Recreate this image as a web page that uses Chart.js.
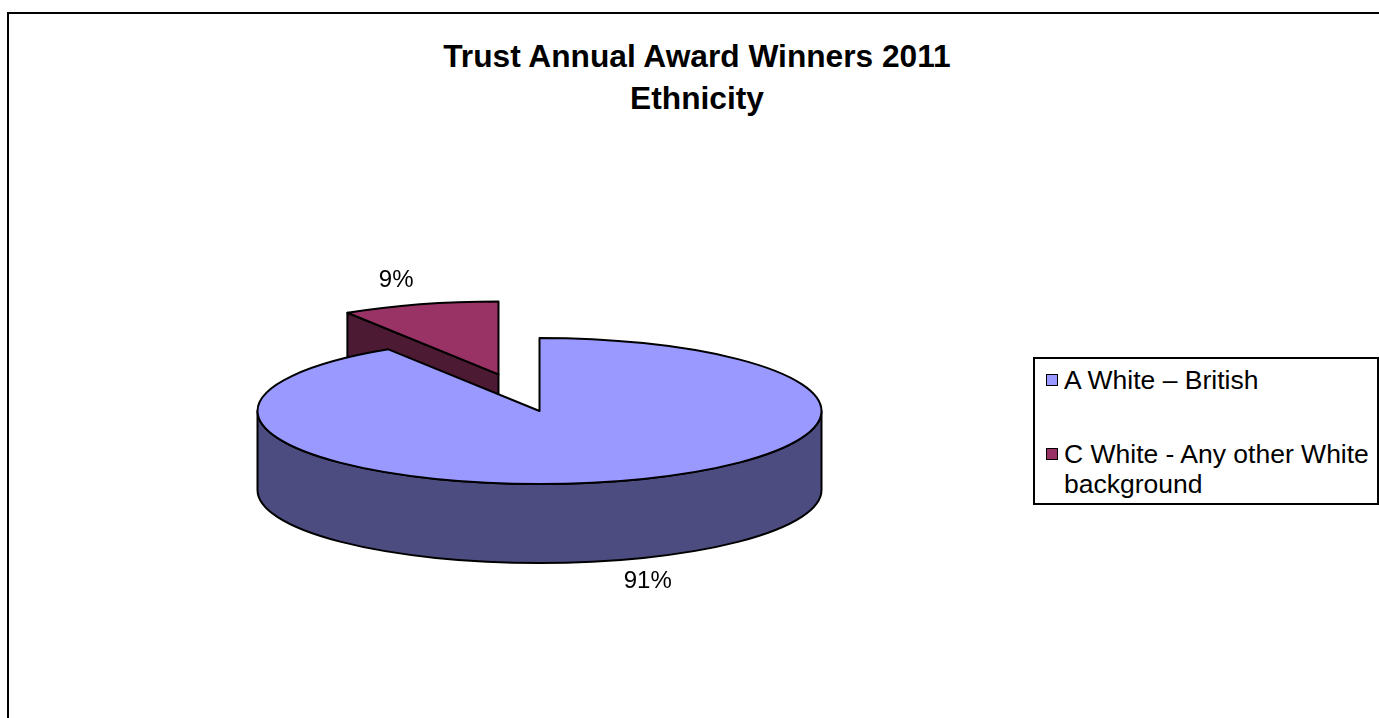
<!DOCTYPE html>
<html>
<head>
<meta charset="utf-8">
<title>Trust Annual Award Winners 2011 - Ethnicity</title>
<script src="https://cdn.jsdelivr.net/npm/chart.js@4"></script>
<style>
  html, body { margin: 0; padding: 0; background: #fff; overflow: hidden; }
  body { width: 1379px; height: 718px; position: relative; font-family: "Liberation Sans", Arial, sans-serif; }
  #frame { position: absolute; left: 7px; top: 12px; width: 1500px; height: 800px; border: 2px solid #000; }
  #chart { position: absolute; left: 0; top: 0; }
  #title {
    position: absolute; left: 0; width: 1394px; top: 35px;
    text-align: center; font-weight: bold; font-size: 31.7px; line-height: 42px; color: #000;
  }
  #legend {
    position: absolute; left: 1033px; top: 357px; width: 346px; box-sizing: border-box;
    border: 2px solid #000; background: #fff; padding: 6px 0 4px 0;
  }
  .item { position: relative; padding-left: 29px; font-size: 26.5px; line-height: 30px; width: 314px; }
  .item + .item { margin-top: 44px; }
  .swatch { position: absolute; left: 11px; top: 9px; width: 10px; height: 10px; border: 1px solid #000; }
</style>
</head>
<body>
<div id="frame"></div>
<div id="title"></div>
<canvas id="chart" width="1379" height="718"></canvas>
<div id="legend"></div>

<script>
// chart data
const titleLines = ['Trust Annual Award Winners 2011', 'Ethnicity'];
const labels = ['A White – British', 'C White - Any other White background'];
const values = [91, 9];

// look of the 3d pie
const topColors = ['#9999FF', '#993366'];
const sideColors = ['#4C4C80', '#4D1A33'];
const explode = [0, 147];   // how far each slice is pulled out (unscaled px)
const TILT = 0.259;         // vertical squash of the pie
const DEPTH = 79;           // thickness of the pie
const FONT = '"Liberation Sans", Arial, sans-serif';

document.getElementById('title').innerHTML = titleLines.join('<br>');

const legend = document.getElementById('legend');
labels.forEach((label, i) => {
  const item = document.createElement('div');
  item.className = 'item';
  const sw = document.createElement('span');
  sw.className = 'swatch';
  sw.style.background = topColors[i];
  item.appendChild(sw);
  item.appendChild(document.createTextNode(label));
  legend.appendChild(item);
});

const pie3d = {
  id: 'pie3d',
  beforeDatasetsDraw(chart) {
    const ctx = chart.ctx;
    const meta = chart.getDatasetMeta(0);
    const total = values.reduce((a, b) => a + b, 0);

    const slices = meta.data.map((arc, i) => {
      const { x, y, startAngle, endAngle, outerRadius } =
        arc.getProps(['x', 'y', 'startAngle', 'endAngle', 'outerRadius'], true);
      const mid = (startAngle + endAngle) / 2;
      const ox = Math.cos(mid) * explode[i];
      const oy = Math.sin(mid) * explode[i];
      return { arc, i, x, y, ox, oy, start: startAngle, end: endAngle, r: outerRadius, mid,
               cx: x + ox, cy: y + oy * TILT };
    });

    const rim = (s, a) => [s.cx + s.r * Math.cos(a), s.cy + s.r * TILT * Math.sin(a)];

    ctx.save();
    ctx.lineWidth = 2;
    ctx.lineJoin = 'round';
    ctx.strokeStyle = '#000';

    // back slices first
    slices.slice().sort((a, b) => a.cy - b.cy).forEach(s => {
      ctx.fillStyle = sideColors[s.i];

      // cut faces turned towards the viewer
      [[s.start, Math.cos(s.start) < -1e-6], [s.end, Math.cos(s.end) > 1e-6]].forEach(([a, show]) => {
        if (!show) return;
        const [px, py] = rim(s, a);
        ctx.beginPath();
        ctx.moveTo(s.cx, s.cy);
        ctx.lineTo(px, py);
        ctx.lineTo(px, py + DEPTH);
        ctx.lineTo(s.cx, s.cy + DEPTH);
        ctx.closePath();
        ctx.fill();
        ctx.stroke();
      });

      // front part of the outer wall
      for (let k = -1; k <= 1; k++) {
        const lo = Math.max(s.start, 2 * Math.PI * k);
        const hi = Math.min(s.end, 2 * Math.PI * k + Math.PI);
        if (hi <= lo) continue;
        const [hx, hy] = rim(s, hi);
        ctx.beginPath();
        ctx.ellipse(s.cx, s.cy, s.r, s.r * TILT, 0, lo, hi);
        ctx.lineTo(hx, hy + DEPTH);
        ctx.ellipse(s.cx, s.cy + DEPTH, s.r, s.r * TILT, 0, hi, lo, true);
        ctx.closePath();
        ctx.fill();
        ctx.stroke();
      }

      // top face, drawn by the arc element in a squashed context
      ctx.save();
      ctx.translate(s.ox, s.y + s.oy * TILT);
      ctx.scale(1, TILT);
      ctx.translate(0, -s.y);
      s.arc.draw(ctx);
      ctx.restore();

      const [sx, sy] = rim(s, s.start);
      ctx.beginPath();
      ctx.moveTo(s.cx, s.cy);
      ctx.lineTo(sx, sy);
      ctx.ellipse(s.cx, s.cy, s.r, s.r * TILT, 0, s.start, s.end);
      ctx.closePath();
      ctx.stroke();
    });

    // percentage labels
    ctx.fillStyle = '#000';
    ctx.font = '24px ' + FONT;
    ctx.textAlign = 'center';
    ctx.textBaseline = 'middle';
    slices.forEach(s => {
      const c = Math.cos(s.mid), sn = Math.sin(s.mid);
      const lx = s.cx + s.r * c * 1.3 + (c > 0 ? 6 : 0);
      const ly = s.cy + s.r * TILT * sn * 1.3 + (sn > 0 ? DEPTH : -3);
      ctx.fillText(Math.round(values[s.i] / total * 100) + '%', lx, ly);
    });

    ctx.restore();
    return false;
  }
};

new Chart(document.getElementById('chart'), {
  type: 'pie',
  data: {
    labels,
    datasets: [{
      data: values,
      backgroundColor: topColors,
      borderWidth: 0
    }]
  },
  options: {
    responsive: false,
    devicePixelRatio: 1,
    animation: false,
    events: [],
    radius: 282,
    layout: { padding: { left: 0, right: 300, top: 120, bottom: 16 } },
    plugins: {
      legend: { display: false },
      title: { display: false },
      tooltip: { enabled: false }
    }
  },
  plugins: [pie3d]
});
</script>
</body>
</html>
